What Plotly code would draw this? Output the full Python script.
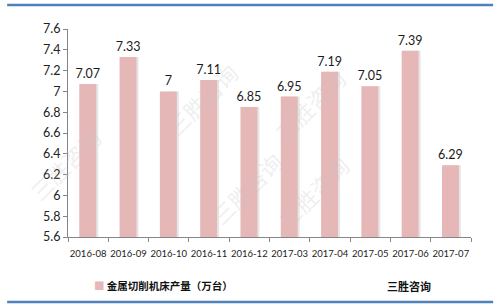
import plotly.graph_objects as go

categories = ["2016-08", "2016-09", "2016-10", "2016-11", "2016-12",
              "2017-03", "2017-04", "2017-05", "2017-06", "2017-07"]
values = [7.07, 7.33, 7.00, 7.11, 6.85, 6.95, 7.19, 7.05, 7.39, 6.29]
labels = ["7.07", "7.33", "7", "7.11", "6.85", "6.95", "7.19", "7.05", "7.39", "6.29"]
series_name = "金属切削机床产量（万台）"
source_text = "三胜咨询"
y_ticks = [5.6, 5.8, 6.0, 6.2, 6.4, 6.6, 6.8, 7.0, 7.2, 7.4, 7.6]
y_tick_text = ["5.6", "5.8", "6", "6.2", "6.4", "6.6", "6.8", "7", "7.2", "7.4", "7.6"]

font_fam = "Lato, Noto Sans CJK SC, sans-serif"
cjk = "Noto Sans CJK SC, sans-serif"
bar_color = "#E6B7B7"

fig = go.Figure()
# soft shadow behind bars
fig.add_trace(go.Bar(
    x=categories, y=values, width=0.42, offset=-0.17,
    marker=dict(color="#E6E6E6", line=dict(width=0)),
    showlegend=False, hoverinfo="skip",
))
fig.add_trace(go.Bar(
    x=categories, y=values, name=series_name, width=0.42, offset=-0.22,
    marker=dict(color=bar_color, line=dict(width=0)),
    text=labels, textposition="outside", cliponaxis=False, constraintext="none",
    textfont=dict(size=12.5, color="#1a1a1a", family=font_fam),
    showlegend=False,
))

fig.update_layout(
    width=500, height=306,
    margin=dict(l=68, r=29, t=29, b=69),
    paper_bgcolor="white", plot_bgcolor="white",
    barmode="overlay",
    font=dict(family=font_fam, color="#222222"),
    showlegend=False,
    xaxis=dict(type="category", showline=True, linecolor="#868686", linewidth=1,
               ticks="outside", tickson="boundaries", ticklen=4, tickcolor="#868686",
               tickangle=0, tickfont=dict(size=9.5, color="#222222", family=font_fam),
               ticklabelstandoff=8, showgrid=False),
    yaxis=dict(range=[5.6, 7.6], tickvals=y_ticks, ticktext=y_tick_text,
               showline=True, linecolor="#868686", linewidth=1,
               ticks="outside", ticklen=4, tickcolor="#868686",
               tickfont=dict(size=12.5, color="#222222", family=font_fam),
               showgrid=False, zeroline=False),
)

# Watermarks
for (wx, wy) in [(0.22, 0.88), (0.6, 0.85), (0.33, 0.02), (0.72, 0.0), (-0.12, 0.35)]:
    fig.add_annotation(xref="paper", yref="paper", x=wx, y=wy, text=source_text,
                       showarrow=False, textangle=-45,
                       font=dict(size=22, color="rgba(200,200,200,0.3)", family=cjk))

# Legend drawn as text
fig.add_annotation(xref="paper", yref="paper", x=0.06, y=-0.232, xanchor="left", yanchor="middle",
                   text="<span style='color:%s'>■</span> <b>%s</b>" % (bar_color, series_name),
                   showarrow=False, font=dict(size=10.5, color="#111111", family=cjk))

fig.add_annotation(xref="paper", yref="paper", x=0.845, y=-0.235, text="<b>" + source_text + "</b>",
                   showarrow=False, xanchor="center", yanchor="middle",
                   font=dict(size=11, color="#111111", family=cjk))

# Blue frame lines top & bottom
fig.add_shape(type="line", xref="paper", yref="paper", x0=-0.151, x1=1.055, y0=1.115, y1=1.115,
              line=dict(color="#4F81BD", width=2.5))
fig.add_shape(type="line", xref="paper", yref="paper", x0=-0.151, x1=1.055, y0=-0.3125, y1=-0.3125,
              line=dict(color="#4F81BD", width=2.5))

fig.write_html("out.html")
